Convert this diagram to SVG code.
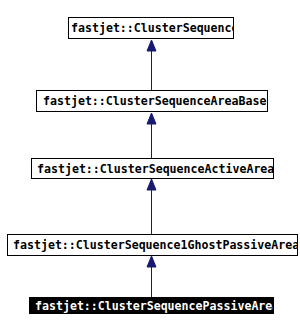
<svg xmlns="http://www.w3.org/2000/svg" width="300" height="332" viewBox="0 0 300 332">
<style>
.box{fill:#fff;stroke:#000;stroke-width:1}
.t{font-family:"DejaVu Sans Mono","Liberation Mono",monospace;font-weight:bold;font-size:11.6px;fill:#000}
.cur{fill:#000;stroke:#000}
.tw{fill:#fff}
.edge{stroke:#191970;stroke-width:1;fill:none}
.head{fill:#191970;stroke:#191970}
</style>
<defs>
<clipPath id="c1"><rect x="68" y="17" width="165" height="22"/></clipPath>
<clipPath id="c2"><rect x="36" y="90" width="231" height="22"/></clipPath>
<clipPath id="c3"><rect x="31" y="158" width="242" height="20"/></clipPath>
<clipPath id="c4"><rect x="7" y="234" width="290" height="21"/></clipPath>
<clipPath id="c5"><rect x="29" y="297" width="244" height="17"/></clipPath>
</defs>
<rect width="300" height="332" fill="#fff"/>
<g id="connectors">
<line class="edge" x1="151.5" y1="50" x2="151.5" y2="90"/>
<polygon class="head" points="151.5,40 147,51 156,51"/>
<line class="edge" x1="151.5" y1="123" x2="151.5" y2="158"/>
<polygon class="head" points="151.5,113 147,124 156,124"/>
<line class="edge" x1="151.5" y1="189" x2="151.5" y2="234"/>
<polygon class="head" points="151.5,179 147,190 156,190"/>
<line class="edge" x1="151.5" y1="266" x2="151.5" y2="297"/>
<polygon class="head" points="151.5,256 147,267 156,267"/>
</g>
<g id="node1">
<rect class="box" x="68.5" y="17.5" width="165" height="21"/>
<text class="t" x="71" y="32" clip-path="url(#c1)">fastjet::ClusterSequence</text>
</g>
<g id="node2">
<rect class="box" x="36.5" y="90.5" width="231" height="21"/>
<text class="t" x="43" y="105" clip-path="url(#c2)">fastjet::ClusterSequenceAreaBase</text>
</g>
<g id="node3">
<rect class="box" x="31.5" y="158.5" width="242" height="20"/>
<text class="t" x="37" y="172.5" clip-path="url(#c3)">fastjet::ClusterSequenceActiveArea</text>
</g>
<g id="node4">
<rect class="box" x="7.5" y="234.5" width="290" height="21"/>
<text class="t" x="13" y="249" clip-path="url(#c4)">fastjet::ClusterSequence1GhostPassiveArea</text>
</g>
<g id="node5">
<rect class="cur" x="29.5" y="297.5" width="244" height="16"/>
<text class="t tw" x="35" y="309.5" clip-path="url(#c5)">fastjet::ClusterSequencePassiveArea</text>
</g>
</svg>
